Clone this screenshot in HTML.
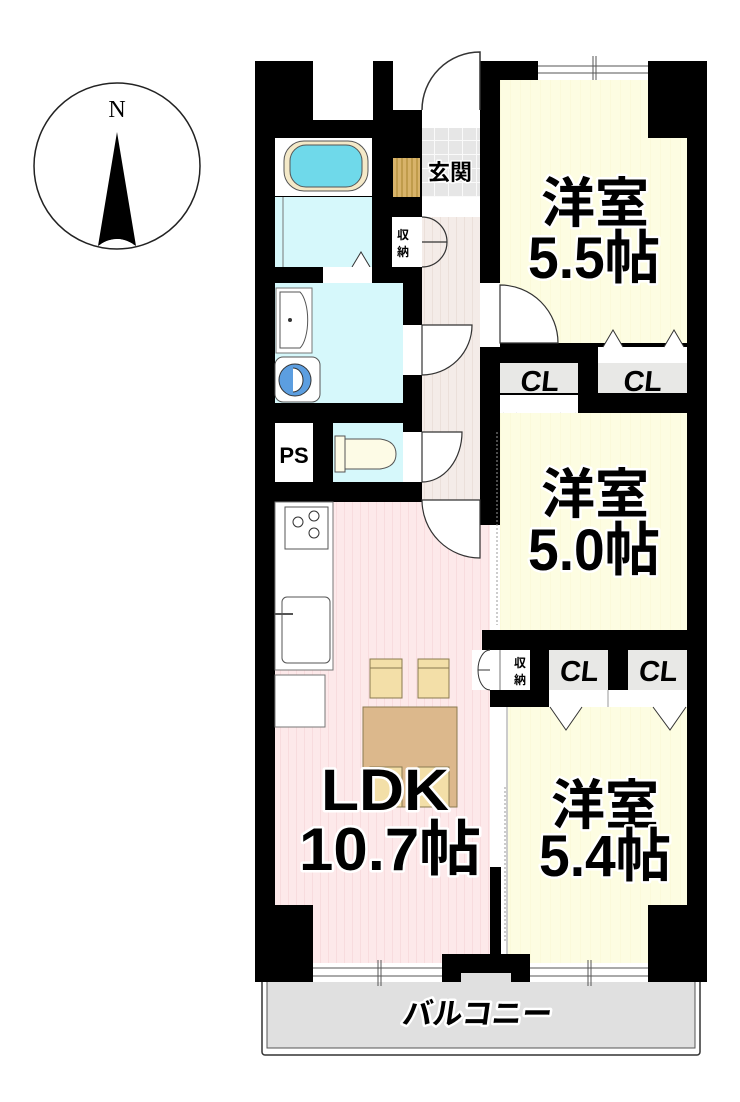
<!DOCTYPE html>
<html><head><meta charset="utf-8"><style>
html,body{margin:0;padding:0;background:#fff;}
svg{display:block;}
.t{font-family:"Liberation Sans","Noto Sans CJK JP",sans-serif;font-weight:bold;fill:#000;stroke:#fff;stroke-width:5px;paint-order:stroke;stroke-linejoin:round;}
.s{font-family:"Liberation Sans","Noto Sans CJK JP",sans-serif;font-weight:bold;fill:#000;}
</style></head><body>
<svg width="740" height="1102" viewBox="0 0 740 1102" xmlns="http://www.w3.org/2000/svg">
<defs>
<pattern id="pk" width="8" height="10" patternUnits="userSpaceOnUse"><rect width="8" height="10" fill="#fde9ea"/><rect width="1" height="10" fill="#f8dcde"/></pattern>
<pattern id="cr" width="10" height="10" patternUnits="userSpaceOnUse"><rect width="10" height="10" fill="#fdfde2"/><rect width="1" height="10" fill="#fbfada"/></pattern>
<pattern id="hw" width="8" height="10" patternUnits="userSpaceOnUse"><rect width="8" height="10" fill="#f4ece8"/><rect width="1" height="10" fill="#ebe0da"/></pattern>
<pattern id="tl" width="14" height="14" patternUnits="userSpaceOnUse"><rect width="14" height="14" fill="#e6e6e6"/><rect width="1" height="14" fill="#fafafa"/><rect width="14" height="1" fill="#fafafa"/></pattern>
</defs>
<!-- compass -->
<circle cx="117" cy="166" r="83" fill="#fff" stroke="#222" stroke-width="1.5"/>
<text x="117" y="117" text-anchor="middle" font-family="Liberation Serif,serif" font-size="24">N</text>
<path d="M117 132 L98 246 Q117 232 136 246 Z" fill="#000"/>
<path d="M101 244 Q117 234 133 244 Q117 252 101 244 Z" fill="#fff"/>

<!-- balcony -->
<rect x="262" y="975" width="438" height="80" rx="3" fill="#fff" stroke="#333" stroke-width="1.5"/>
<rect x="267" y="975" width="428" height="73" fill="#e0e0e0" stroke="#555" stroke-width="1"/>
<text class="t" x="478" y="1024" text-anchor="middle" font-size="30" transform="skewX(-8) translate(142,0)">バルコニー</text>

<!-- building black -->
<rect x="255" y="61" width="452" height="921" fill="#000"/>
<rect x="313" y="50" width="60" height="70" fill="#fff"/>
<rect x="393" y="50" width="87" height="60" fill="#fff"/>
<rect x="538" y="55" width="110" height="25" fill="#fff"/>
<line x1="538" y1="66" x2="648" y2="66" stroke="#555"/><line x1="538" y1="73" x2="648" y2="73" stroke="#555"/>
<line x1="593" y1="56" x2="593" y2="84" stroke="#555"/><line x1="596" y1="56" x2="596" y2="84" stroke="#555"/>
<path d="M480 110 L480 52 A58 58 0 0 0 422 110" fill="#fff" stroke="#333" stroke-width="1.5"/>

<!-- hallway -->
<rect x="422" y="110" width="58" height="18" fill="#fff"/>
<rect x="422" y="128" width="58" height="69" fill="url(#tl)"/>
<rect x="422" y="197" width="58" height="20" fill="#fff"/>
<rect x="422" y="217" width="58" height="283" fill="url(#hw)"/>
<rect x="393" y="158" width="27" height="39" fill="#d8b36a"/>
<g stroke="#a8842e" stroke-width="1"><line x1="397" y1="158" x2="397" y2="197"/><line x1="402" y1="158" x2="402" y2="197"/><line x1="407" y1="158" x2="407" y2="197"/><line x1="412" y1="158" x2="412" y2="197"/><line x1="417" y1="158" x2="417" y2="197"/></g>
<text class="t" x="450" y="180" text-anchor="middle" font-size="22" style="stroke-width:3px">玄関</text>

<rect x="392" y="217" width="30" height="50" fill="#fff"/>
<text class="s" x="397" y="239" font-size="12">収</text><text class="s" x="397" y="256" font-size="12">納</text>
<path d="M422 217 A25 25 0 0 1 447 242 L422 242 M422 267 A25 25 0 0 0 447 242" fill="none" stroke="#333" stroke-width="1.2"/>

<!-- bath -->
<rect x="275" y="138" width="97" height="58" fill="#fff"/>
<rect x="284" y="141" width="84" height="50" rx="20" fill="#f4e9c8" stroke="#555"/>
<rect x="290" y="145" width="72" height="42" rx="16" fill="#6fd9ea" stroke="#555"/>
<rect x="275" y="197" width="97" height="70" fill="#d6f8fb"/>
<line x1="283" y1="197" x2="283" y2="267" stroke="#777"/>
<path d="M352 267 L361 252 L370 267" fill="#fff" stroke="#333"/>
<rect x="323" y="267" width="49" height="17" fill="#fff"/>

<!-- wash room -->
<rect x="275" y="283" width="128" height="120" fill="#d6f8fb"/>
<rect x="276" y="288" width="36" height="65" fill="#fff" stroke="#777"/>
<path d="M280 292 L300 292 A12 30 0 0 1 300 348 L280 348 Z" fill="#fff" stroke="#555"/>
<circle cx="290" cy="320" r="2" fill="#333"/>
<rect x="275" y="357" width="45" height="45" rx="8" fill="#fff" stroke="#555"/>
<circle cx="295" cy="380" r="16" fill="#5c9ee0" stroke="#333"/>
<path d="M293 368 A10 12 0 0 1 293 392" fill="#fff" stroke="#333"/>
<rect x="403" y="325" width="19" height="50" fill="#fff"/>
<path d="M422 325 L472 325 A50 50 0 0 1 422 375 Z" fill="#fff" stroke="#333" stroke-width="1.2"/>

<!-- PS / toilet -->
<rect x="275" y="423" width="38" height="59" fill="#fff"/>
<text class="s" x="294" y="463" text-anchor="middle" font-size="22">PS</text>
<rect x="333" y="423" width="70" height="59" fill="#d6f8fb"/>
<path d="M343 439 L380 439 Q396 441 396 454 Q396 467 380 469 L343 469 Z" fill="#fdfbe6" stroke="#555"/>
<rect x="335" y="436" width="10" height="36" fill="#fdfbe6" stroke="#555"/>
<rect x="403" y="432" width="19" height="50" fill="#fff"/>
<path d="M422 432 L462 432 A40 50 0 0 1 422 482 Z" fill="#fff" stroke="#333" stroke-width="1.2"/>

<!-- 5.5 room -->
<path d="M500 80 H648 V138 H687 V343 H500 Z" fill="url(#cr)"/>
<rect x="480" y="283" width="20" height="64" fill="#fff"/>
<path d="M500 285 L500 343 L558 343 A58 58 0 0 0 500 285 Z" fill="#fff" stroke="#333" stroke-width="1.2"/>
<rect x="598" y="347" width="89" height="16" fill="#fff"/>
<path d="M603 347 L613 330 L623 347 M664 347 L674 330 L684 347" fill="#fff" stroke="#333"/>
<rect x="598" y="363" width="89" height="30" fill="#e8e8e6"/>
<rect x="500" y="363" width="78" height="30" fill="#e8e8e6"/>
<rect x="500" y="395" width="78" height="18" fill="#fff"/>
<path d="M503 413 L510 427 L517 413 M560 413 L568 427 L576 413" fill="#fff" stroke="#333"/>
<text class="s" x="539" y="391" text-anchor="middle" font-size="29" transform="skewX(-6) translate(41,0)">CL</text>
<text class="s" x="642" y="391" text-anchor="middle" font-size="29" transform="skewX(-6) translate(41,0)">CL</text>

<!-- 5.0 room -->
<rect x="500" y="413" width="187" height="217" fill="url(#cr)"/>
<rect x="490" y="525" width="10" height="105" fill="#fff"/>
<rect x="480" y="525" width="12" height="105" fill="#fff"/>
<line x1="497" y1="432" x2="497" y2="625" stroke="#999" stroke-dasharray="2 2"/>

<!-- LDK -->
<rect x="275" y="502" width="205" height="461" fill="url(#pk)"/>
<rect x="480" y="525" width="10" height="438" fill="url(#pk)"/>
<rect x="255" y="905" width="58" height="77" fill="#000"/>
<path d="M422 500 L480 500 L480 558 A58 58 0 0 1 422 500 Z" fill="#fff" stroke="#333" stroke-width="1.2"/>
<rect x="275" y="502" width="58" height="168" fill="#fff" stroke="#777"/>
<rect x="285" y="507" width="43" height="42" fill="#fff" stroke="#555"/>
<circle cx="298" cy="522" r="5" fill="none" stroke="#333"/><circle cx="314" cy="516" r="5" fill="none" stroke="#333"/><circle cx="314" cy="533" r="5" fill="none" stroke="#333"/>
<rect x="282" y="597" width="48" height="66" rx="5" fill="#fff" stroke="#555"/>
<line x1="275" y1="614" x2="293" y2="614" stroke="#555" stroke-width="2"/>
<rect x="275" y="675" width="50" height="52" fill="#fff" stroke="#777"/>
<rect x="370" y="659" width="32" height="39" fill="#f3dfa8" stroke="#8a7a50"/>
<rect x="418" y="659" width="31" height="39" fill="#f3dfa8" stroke="#8a7a50"/>
<line x1="370" y1="668" x2="402" y2="668" stroke="#8a7a50"/><line x1="418" y1="668" x2="449" y2="668" stroke="#8a7a50"/>
<rect x="363" y="707" width="94" height="100" fill="#dcb88c" stroke="#8a7a50"/>
<rect x="370" y="767" width="32" height="40" fill="#f3dfa8" stroke="#8a7a50"/>
<rect x="418" y="767" width="31" height="40" fill="#f3dfa8" stroke="#8a7a50"/>

<!-- LDK/5.4 CL row -->
<rect x="482" y="630" width="225" height="20" fill="#000"/>
<rect x="472" y="650" width="18" height="40" fill="#fff"/>
<path d="M490 650 A12 20 0 0 0 478 670 L490 670 M490 690 A12 20 0 0 1 478 670" fill="none" stroke="#333"/>
<rect x="490" y="650" width="20" height="40" fill="#fff"/>
<line x1="500" y1="650" x2="500" y2="690" stroke="#777"/>
<rect x="510" y="650" width="20" height="40" fill="#fff"/>
<text class="s" x="520" y="667" text-anchor="middle" font-size="12">収</text><text class="s" x="520" y="684" text-anchor="middle" font-size="12">納</text>
<rect x="549" y="650" width="59" height="40" fill="#e8e8e6"/>
<rect x="628" y="650" width="59" height="40" fill="#e8e8e6"/>
<text class="s" x="579" y="681" text-anchor="middle" font-size="29" transform="skewX(-6) translate(71,0)">CL</text>
<text class="s" x="658" y="681" text-anchor="middle" font-size="29" transform="skewX(-6) translate(71,0)">CL</text>
<rect x="549" y="690" width="138" height="17" fill="#fff"/>
<line x1="608" y1="690" x2="608" y2="707" stroke="#999"/>

<!-- 5.4 room -->
<rect x="508" y="707" width="179" height="256" fill="url(#cr)"/>
<path d="M550 707 L566 730 L582 707 M653 707 L670 730 L686 707" fill="#fff" stroke="#333"/>
<rect x="490" y="707" width="18" height="256" fill="#fff"/>
<line x1="507" y1="707" x2="507" y2="963" stroke="#999"/>
<line x1="505" y1="787" x2="505" y2="943" stroke="#999" stroke-dasharray="2 2"/>
<rect x="490" y="867" width="11" height="90" fill="#000"/>
<rect x="648" y="905" width="59" height="77" fill="#000"/>

<!-- bottom windows -->
<rect x="313" y="963" width="129" height="19" fill="#fff"/>
<rect x="530" y="963" width="118" height="19" fill="#fff"/>
<g stroke="#555"><line x1="313" y1="968" x2="442" y2="968"/><line x1="313" y1="976" x2="442" y2="976"/><line x1="378" y1="960" x2="378" y2="986"/><line x1="381" y1="960" x2="381" y2="986"/>
<line x1="530" y1="968" x2="648" y2="968"/><line x1="530" y1="976" x2="648" y2="976"/><line x1="588" y1="960" x2="588" y2="986"/><line x1="591" y1="960" x2="591" y2="986"/></g>
<rect x="442" y="954" width="88" height="28" fill="#000"/>
<rect x="461" y="973" width="50" height="10" fill="#e0e0e0"/>

<!-- labels -->
<text class="t" x="595" y="222" text-anchor="middle" font-size="54">洋室</text>
<text class="t" x="594" y="278" text-anchor="middle" font-size="58" textLength="132" lengthAdjust="spacingAndGlyphs">5.5帖</text>
<text class="t" x="595" y="513" text-anchor="middle" font-size="54">洋室</text>
<text class="t" x="594" y="570" text-anchor="middle" font-size="58" textLength="132" lengthAdjust="spacingAndGlyphs">5.0帖</text>
<text class="t" x="605" y="824" text-anchor="middle" font-size="54">洋室</text>
<text class="t" x="605" y="876" text-anchor="middle" font-size="58" textLength="132" lengthAdjust="spacingAndGlyphs">5.4帖</text>
<text class="t" x="385" y="810" text-anchor="middle" font-size="58" textLength="128" lengthAdjust="spacingAndGlyphs">LDK</text>
<text class="t" x="390" y="870" text-anchor="middle" font-size="60" textLength="182" lengthAdjust="spacingAndGlyphs">10.7帖</text>
</svg>
</body></html>
